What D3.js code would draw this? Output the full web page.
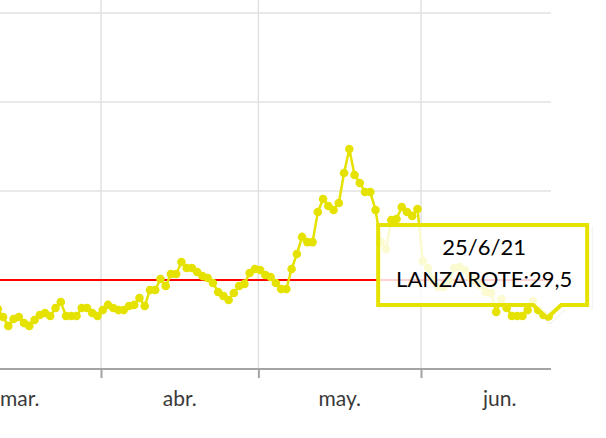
<!DOCTYPE html>
<html><head><meta charset="utf-8">
<script src="https://cdn.jsdelivr.net/npm/d3@7"></script>
<style>html,body{margin:0;padding:0;background:#fff;overflow:hidden}</style>
</head><body>
<svg id="c" width="606" height="438"></svg>
<script>
// ---- data ----
const startDate = "2021-03-12";
const seriesName = "LANZAROTE";
const valuesMar = [33.7, 29.2, 24.2, 28.1, 29.2, 25.8, 24.2, 27.5, 30.3, 31.5, 29.8, 34.3, 37.6, 29.8, 29.8, 29.8, 34.3, 34.3, 31.5, 29.8];
const valuesApr = [33.1, 36.0, 34.3, 33.1, 33.1, 35.4, 36.0, 39.9, 35.4, 44.4, 44.4, 50.6, 46.6, 53.4, 53.4, 60.1, 56.7, 56.7, 54.5, 52.2, 51.1, 48.3, 43.3, 41.0, 38.8, 42.7, 46.6, 47.8, 53.9, 56.2];
const valuesMay = [55.6, 52.8, 51.7, 48.3, 44.9, 44.9, 56.2, 64.6, 74.2, 71.3, 71.3, 88.2, 95.5, 91.6, 89.3, 93.3, 110.1, 123.6, 109.0, 104.5, 99.4, 99.4, 89.3, 71.3, 67.4, 83.7, 84.3, 91.0, 88.2, 86.0, 89.9];
const valuesJun = [60.7, 56.7, 50.0, 46.1, 46.1, 50.0, 56.7, 57.3, 55.6, 51.7, 49.4, 47.2, 43.3, 42.7, 32.0, 39.3, 34.3, 29.8, 29.8, 29.8, 33.1, 38.2, 33.1, 30.3, 29.5];
const monthStarts = ["2021-03-01", "2021-04-01", "2021-05-01", "2021-06-01"];
const monthLabels = ["mar.", "abr.", "may.", "jun."];
const yTicks = [50, 100, 150, 200, 250];
const threshold = 50;

// ---- setup ----
const values = [...valuesMar, ...valuesApr, ...valuesMay, ...valuesJun];
const parse = d3.timeParse("%Y-%m-%d");
const t0 = parse(startDate);
const data = values.map((v, i) => ({ date: d3.timeHour.offset(d3.timeDay.offset(t0, i), 8), value: v }));
const months = monthStarts.map(parse);

const svg = d3.select("#c");
const plotLeft = -80, plotRight = 551, plotTop = -10, axisY = 369;

const x = d3.scaleTime().domain([parse("2021-04-01"), parse("2021-06-01")]).range([101, 421]);
const y = d3.scaleLinear().domain([0, 200]).range([axisY, 13]);

const YEL = "#e5e200";

// grid
svg.append("g").selectAll("line").data(months).join("line")
  .attr("x1", d => x(d)).attr("x2", d => x(d))
  .attr("y1", plotTop).attr("y2", axisY)
  .attr("stroke", "#e2e2e2").attr("stroke-width", 1.5);
svg.append("g").selectAll("line").data(yTicks).join("line")
  .attr("x1", plotLeft).attr("x2", plotRight)
  .attr("y1", d => y(d)).attr("y2", d => y(d))
  .attr("stroke", "#e2e2e2").attr("stroke-width", 1.5);

// axis
svg.append("line").attr("x1", plotLeft).attr("x2", plotRight)
  .attr("y1", axisY).attr("y2", axisY).attr("stroke", "#a3a3a3").attr("stroke-width", 2);
const ax = svg.append("g").attr("transform", `translate(0,${axisY})`)
  .call(d3.axisBottom(x).tickValues(months).tickSize(9).tickFormat(""));
ax.select(".domain").remove();
ax.selectAll(".tick line").attr("stroke", "#a3a3a3").attr("stroke-width", 2);

svg.append("g").selectAll("text").data(months).join("text")
  .attr("x", d => (x(d) + x(d3.timeMonth.offset(d, 1))) / 2)
  .attr("y", 406)
  .attr("text-anchor", "middle")
  .attr("font-family", "Lato, sans-serif").attr("font-size", 21).attr("fill", "#3a3a3a")
  .text((d, i) => monthLabels[i]);

// threshold
svg.append("line").attr("x1", plotLeft).attr("x2", plotRight)
  .attr("y1", y(threshold)).attr("y2", y(threshold))
  .attr("stroke", "#ff0000").attr("stroke-width", 2);

// series
svg.append("path").datum(data)
  .attr("fill", "none").attr("stroke", YEL).attr("stroke-width", 2.5)
  .attr("d", d3.line().x(d => x(d.date)).y(d => y(d.value)));
svg.append("g").selectAll("circle").data(data).join("circle")
  .attr("cx", d => x(d.date)).attr("cy", d => y(d.value)).attr("r", 4.3).attr("fill", YEL);

// tooltip
const last = data[data.length - 1];
const tx = x(last.date), ty = y(last.value);
const L = tx - 170.5, R = tx + 38.5, T = ty - 91.5, B = ty - 11.5;
const tipPath = `M${L},${T}H${R}V${B}H${tx + 12.5}L${tx - 1.5},${ty + 1.5}L${tx - 15.5},${B}H${L}Z`;
const defs = svg.append("defs");
const mask = defs.append("mask").attr("id", "shmask");
mask.append("rect").attr("x", 0).attr("y", 0).attr("width", 606).attr("height", 438).attr("fill", "#fff");
mask.append("path").attr("d", tipPath).attr("fill", "#000").attr("stroke", "#000").attr("stroke-width", 4);
svg.append("path").attr("d", tipPath).attr("transform", "translate(3,3)")
  .attr("fill", "#8a8a8a").attr("stroke", "#8a8a8a").attr("stroke-width", 4)
  .attr("opacity", 0.75).attr("mask", "url(#shmask)");
svg.append("path").attr("d", tipPath)
  .attr("fill", "#fff").attr("fill-opacity", 0.82)
  .attr("stroke", YEL).attr("stroke-width", 4).attr("stroke-linejoin", "miter");
const fmtDate = d3.timeFormat("%-d/%-m/%y");
const cx = tx - 64.5;
svg.append("text").attr("x", cx).attr("y", ty - 61.5).attr("text-anchor", "middle")
  .attr("font-family", "Lato, sans-serif").attr("font-size", 22).attr("fill", "#000")
  .text(fmtDate(last.date));
svg.append("text").attr("x", cx).attr("y", ty - 29.5).attr("text-anchor", "middle")
  .attr("font-family", "Lato, sans-serif").attr("font-size", 22).attr("fill", "#000")
  .text(seriesName + ":" + String(last.value).replace(".", ","));
</script>
</body></html>
